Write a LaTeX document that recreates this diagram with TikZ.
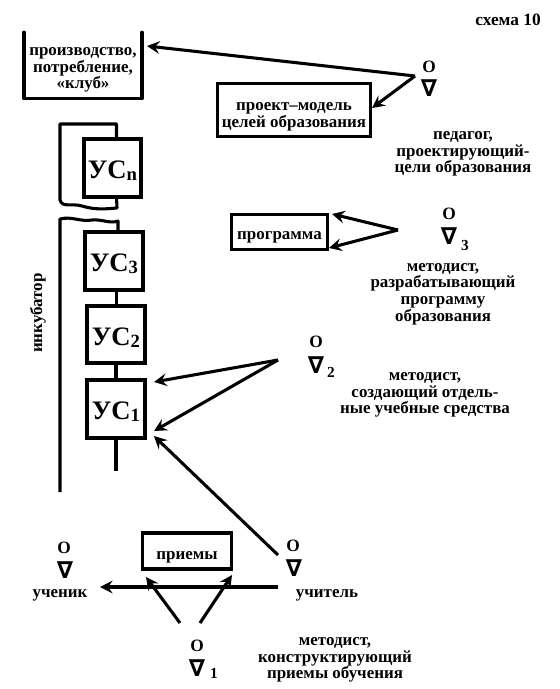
\documentclass[tikz,border=0pt]{standalone}
\usepackage{fontspec}
\setmainfont{Liberation Serif}
\newfontfamily\nablafont{DejaVu Sans}
\usetikzlibrary{arrows.meta}
\tikzset{
  x=0.75pt,y=-0.75pt,
  every node/.style={font=\fontsize{12.7pt}{12.5pt}\selectfont\bfseries,inner sep=0pt,outer sep=0pt,align=center},
  thick line/.style={line width=2.3pt,line cap=round,line join=round},
  link/.style={line width=2.3pt},
  arrow/.style={line width=2.3pt,-{Stealth[length=9.5pt,width=9.5pt,inset=3.5pt]}},
  framebox/.style={draw,line width=2.6pt,minimum width=#1},
  usbox/.style={draw,line width=2.8pt,minimum width=43pt,minimum height=43pt,font=\fontsize{20pt}{22pt}\selectfont\bfseries},
  circ/.style={font=\fontsize{13pt}{13pt}\selectfont\bfseries},
  tri/.style={font=\fontsize{17.5pt}{17.5pt}\selectfont\bfseries\nablafont},
  idx/.style={font=\fontsize{11.5pt}{11.5pt}\selectfont\bfseries}
}
\newcommand{\dn}[2]{\raisebox{-#1}[\height][\depth]{#2}}
\newcommand{\usl}[1]{\dn{2pt}{УС\raisebox{-1.5pt}{\fontsize{14pt}{14pt}\selectfont #1}}}
\begin{document}
\begin{tikzpicture}
\useasboundingbox (0,0) rectangle (560,689);
\fill[white] (0,0) rectangle (560,689);
% title
\node (title) at (508,20) {\fontsize{13pt}{13pt}\selectfont схема 10};
% boxes
\node[minimum width=88.5pt,minimum height=50pt] (prod) at (83,65.5) {\dn{3.4pt}{производство,}\\\dn{3.4pt}{потребление,}\\\dn{3.4pt}{«клуб»}};
\draw[thick line] (prod.north west) -- (prod.south west) -- (prod.south east) -- (prod.north east);
\node[framebox=115pt,minimum height=40pt] (proj) at (294,110) {\dn{5.2pt}{проект--модель}\\\dn{5.2pt}{целей образования}};
\node[framebox=72pt,minimum height=26pt] (prog) at (279.5,232) {\dn{3.7pt}{программа}};
\node[framebox=67pt,minimum height=27pt] (prie) at (187,551) {\dn{4.5pt}{приемы}};
\node[usbox] (usn) at (112.5,168) {\usl{n}};
\node[usbox] (us3) at (114,261) {\usl{3}};
\node[usbox] (us2) at (116,334.5) {\usl{2}};
\node[usbox] (us1) at (116,409) {\usl{1}};
% chain
\coordinate (loopa) at (116,124);
\coordinate (loopb) at (60,124);
\coordinate (loopc) at (60,200);
\coordinate (loopd) at (117,208);
\coordinate (incA) at (60,492);
\coordinate (incB) at (60,219);
\coordinate (incC) at (118,221);
\coordinate (tail) at (116,471);
\draw[link,line join=round] ([xshift=3pt]usn.north) -- ([xshift=3pt]usn.north |- loopa) -- (loopb) -- (loopc)
  .. controls (62,208) and (72,203) .. (82,206) .. controls (95,210) and (105,209) .. (loopd) -- ([xshift=3pt]usn.south);
\draw[link,line join=round] (incA) -- (incB) .. controls (72,216) and (80,222) .. (92,220) .. controls (102,219) and (110,224) .. (incC) -- ([xshift=3pt]us3.north);
\draw[link] ([xshift=2pt]us3.south) -- ([xshift=2pt]us3.south |- us2.north);
\draw[link] (us2.south) -- (us1.north);
\draw[link] (us1.south) -- (tail);
% actors
\node[circ] (o0) at (429,67) {O};
\node[tri] (t0) at (429,88) {∇};
\node[circ] (o3) at (449,214) {O};
\node[tri] (t3) at (449,236) {∇};
\node[idx] (i3) at (465,245) {3};
\node[circ] (o2) at (316,342) {O};
\node[tri] (t2) at (316,365) {∇};
\node[idx] (i2) at (331,372) {2};
\node[circ] (ot) at (293,546) {O};
\node[tri] (tt) at (294,568) {∇};
\node[circ] (ou) at (64,548) {O};
\node[tri] (tu) at (65,570) {∇};
\node[circ] (o1) at (197,646) {O};
\node[tri] (t1) at (197,668) {∇};
\node[idx] (i1) at (214,673) {1};
% labels
\node (l0) at (463,154) {педагог,\\проектирующий-\\цели образования};
\node (l3) at (443,294) {методист,\\разрабатывающий\\программу\\образования};
\node (l2) at (425,395) {методист,\\создающий отдель-\\ные учебные средства};
\node (lt) at (327,595) {учитель};
\node (lu) at (60,595) {ученик};
\node (l1) at (335,660) {методист,\\конструктирующий\\приемы обучения};
\node[rotate=90] (inc) at (38,313) {инкубатор};
% arrow junctions
\coordinate (a0) at (415,76);
\coordinate (a3) at (398,230);
\coordinate (a2) at (278,360);
\coordinate (atS) at (278,555);
\coordinate (atH) at (278,587);
\coordinate (a1l) at (180,623);
\coordinate (a1r) at (200,623);
\coordinate (hprod) at (147,46);
\coordinate (hproj) at (372,108);
\coordinate (hprog1) at (332,214);
\coordinate (hprog2) at (329,248);
\coordinate (h21) at (154,382);
\coordinate (h22) at (154,431);
\coordinate (ht1) at (154,436);
\coordinate (hu) at (100,587);
\coordinate (hp1) at (146,577);
\coordinate (hp2) at (232,575);
\draw[arrow] (a0) -- (hprod);
\draw[arrow] (a0) -- (hproj);
\draw[arrow] (a3) -- (hprog1);
\draw[arrow] (a3) -- (hprog2);
\draw[arrow] (a2) -- (h21);
\draw[arrow] (a2) -- (h22);
\draw[arrow] (atS) -- (ht1);
\draw[arrow] (atH) -- (hu);
\draw[arrow] (a1l) -- (hp1);
\draw[arrow] (a1r) -- (hp2);
\end{tikzpicture}
\end{document}
